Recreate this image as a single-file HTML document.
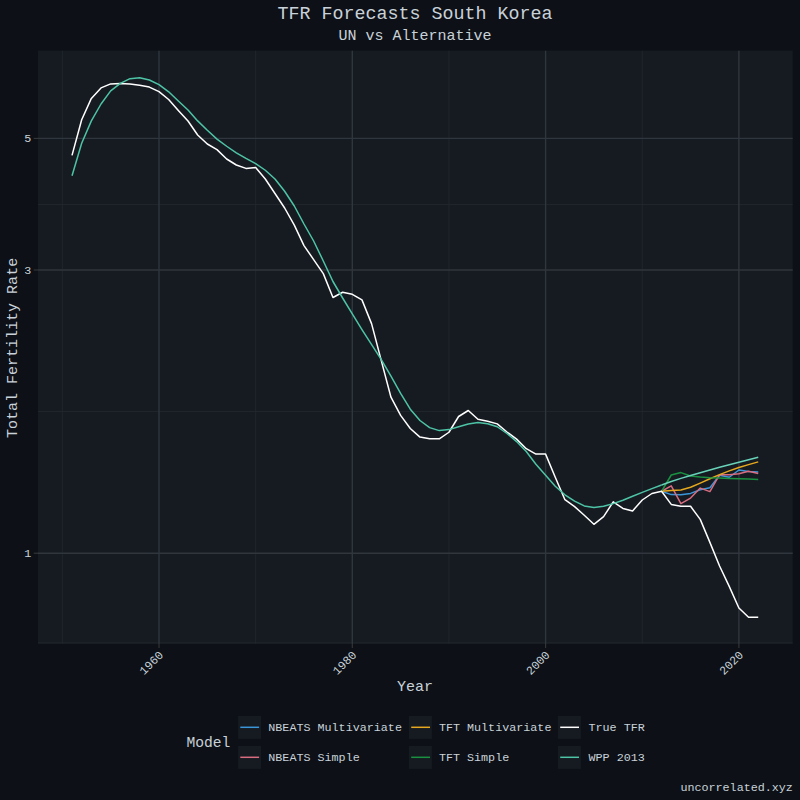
<!DOCTYPE html>
<html><head><meta charset="utf-8"><title>TFR Forecasts South Korea</title>
<style>
html,body{margin:0;padding:0;background:#0d1117;}
body{width:800px;height:800px;position:relative;overflow:hidden;font-family:"Liberation Mono",monospace;}
.t{position:absolute;white-space:pre;line-height:1em;font-family:"Liberation Mono",monospace;}
</style></head><body>
<svg width="800" height="800" viewBox="0 0 800 800" style="position:absolute;left:0;top:0">
<rect x="38.0" y="50.67" width="754.7" height="593.23" fill="#161b22"/>
<line x1="62.35" x2="62.35" y1="50.67" y2="643.9" stroke="#21262d" stroke-width="0.9"/>
<line x1="255.65" x2="255.65" y1="50.67" y2="643.9" stroke="#21262d" stroke-width="0.9"/>
<line x1="448.95" x2="448.95" y1="50.67" y2="643.9" stroke="#21262d" stroke-width="0.9"/>
<line x1="642.25" x2="642.25" y1="50.67" y2="643.9" stroke="#21262d" stroke-width="0.9"/>
<line x1="38.0" x2="792.7" y1="204.5" y2="204.5" stroke="#21262d" stroke-width="0.9"/>
<line x1="38.0" x2="792.7" y1="411.5" y2="411.5" stroke="#21262d" stroke-width="0.9"/>
<line x1="38.0" x2="792.7" y1="642.9" y2="642.9" stroke="#21262d" stroke-width="0.9"/>
<line x1="159.00" x2="159.00" y1="50.67" y2="643.9" stroke="#30363d" stroke-width="1.4"/>
<line x1="159.00" x2="159.00" y1="643.9" y2="648.1" stroke="#383838" stroke-width="1.07"/>
<line x1="352.30" x2="352.30" y1="50.67" y2="643.9" stroke="#30363d" stroke-width="1.4"/>
<line x1="352.30" x2="352.30" y1="643.9" y2="648.1" stroke="#383838" stroke-width="1.07"/>
<line x1="545.60" x2="545.60" y1="50.67" y2="643.9" stroke="#30363d" stroke-width="1.4"/>
<line x1="545.60" x2="545.60" y1="643.9" y2="648.1" stroke="#383838" stroke-width="1.07"/>
<line x1="738.90" x2="738.90" y1="50.67" y2="643.9" stroke="#30363d" stroke-width="1.4"/>
<line x1="738.90" x2="738.90" y1="643.9" y2="648.1" stroke="#383838" stroke-width="1.07"/>
<line x1="38.0" x2="792.7" y1="138.4" y2="138.4" stroke="#30363d" stroke-width="1.4"/>
<line x1="33.7" x2="38.0" y1="138.4" y2="138.4" stroke="#383838" stroke-width="1.07"/>
<line x1="38.0" x2="792.7" y1="270.0" y2="270.0" stroke="#30363d" stroke-width="1.4"/>
<line x1="33.7" x2="38.0" y1="270.0" y2="270.0" stroke="#383838" stroke-width="1.07"/>
<line x1="38.0" x2="792.7" y1="553.2" y2="553.2" stroke="#30363d" stroke-width="1.4"/>
<line x1="33.7" x2="38.0" y1="553.2" y2="553.2" stroke="#383838" stroke-width="1.07"/>
<polyline points="661.58,491.25 671.25,494.60 680.91,494.80 690.57,493.40 700.24,489.75 709.90,487.75 719.57,475.25 729.23,477.25 738.90,470.00 748.56,471.50 758.23,472.10" fill="none" stroke="#3b96d9" stroke-width="1.5" stroke-linejoin="round" stroke-linecap="butt"/>
<polyline points="661.58,491.25 671.25,485.90 680.91,503.60 690.57,498.10 700.24,488.10 709.90,491.60 719.57,474.75 729.23,474.75 738.90,473.75 748.56,471.25 758.23,473.40" fill="none" stroke="#d96c7f" stroke-width="1.5" stroke-linejoin="round" stroke-linecap="butt"/>
<polyline points="661.58,491.25 671.25,490.60 680.91,490.00 690.57,487.20 700.24,483.10 709.90,478.75 719.57,474.60 729.23,470.90 738.90,467.50 748.56,464.60 758.23,461.90" fill="none" stroke="#e6a81e" stroke-width="1.5" stroke-linejoin="round" stroke-linecap="butt"/>
<polyline points="661.58,491.25 671.25,475.00 680.91,472.60 690.57,476.00 700.24,477.10 709.90,477.75 719.57,478.10 729.23,478.40 738.90,478.75 748.56,479.10 758.23,479.50" fill="none" stroke="#1a9140" stroke-width="1.5" stroke-linejoin="round" stroke-linecap="butt"/>
<polyline points="72.02,155.40 81.68,119.75 91.34,98.40 101.01,87.90 110.68,83.90 120.34,83.60 130.00,83.90 139.67,85.25 149.34,87.10 159.00,91.60 168.66,99.50 178.33,110.40 188.00,121.00 197.66,135.00 207.32,144.00 216.99,149.60 226.66,159.00 236.32,165.00 245.98,168.40 255.65,167.40 265.31,179.00 274.98,193.50 284.64,208.00 294.31,225.10 303.98,245.60 313.64,259.60 323.30,273.60 332.97,297.50 342.63,292.25 352.30,294.30 361.96,299.90 371.63,323.90 381.29,360.60 390.96,397.20 400.62,415.40 410.29,428.50 419.95,437.10 429.62,438.80 439.28,438.80 448.95,432.25 458.61,416.50 468.28,410.50 477.94,419.30 487.61,421.20 497.27,423.90 506.94,432.00 516.61,439.10 526.27,448.70 535.93,454.10 545.60,454.10 555.26,477.20 564.93,499.70 574.60,506.60 584.26,515.25 593.92,524.30 603.59,516.60 613.25,501.90 622.92,508.40 632.59,510.90 642.25,500.00 651.91,493.50 661.58,491.25 671.25,504.40 680.91,506.20 690.57,506.30 700.24,519.40 709.90,542.40 719.57,566.00 729.23,586.40 738.90,608.00 748.56,617.20 758.23,617.20" fill="none" stroke="#ffffff" stroke-width="1.5" stroke-linejoin="round" stroke-linecap="butt"/>
<polyline points="72.02,175.70 81.68,143.20 91.34,120.90 101.01,104.00 110.68,90.90 120.34,83.40 130.00,78.70 139.67,77.75 149.34,80.00 159.00,84.70 168.66,91.80 178.33,101.00 188.00,110.00 197.66,120.90 207.32,130.30 216.99,139.10 226.66,146.25 236.32,152.80 245.98,158.40 255.65,163.70 265.31,170.25 274.98,179.00 284.64,191.25 294.31,206.00 303.98,224.00 313.64,241.00 323.30,261.00 332.97,281.50 342.63,298.00 352.30,313.90 361.96,329.60 371.63,344.60 381.29,359.70 390.96,376.20 400.62,393.40 410.29,409.20 419.95,420.50 429.62,427.60 439.28,430.60 448.95,429.60 458.61,426.80 468.28,424.00 477.94,422.60 487.61,423.70 497.27,426.75 506.94,433.50 516.61,441.60 526.27,451.50 535.93,464.20 545.60,475.30 555.26,486.20 564.93,494.80 574.60,501.20 584.26,505.90 593.92,507.50 603.59,506.30 613.25,503.60 622.92,500.20 632.59,496.30 642.25,492.40 651.91,488.60 661.58,485.00" fill="none" stroke="#4ec4a6" stroke-width="1.5" stroke-linejoin="round" stroke-linecap="butt"/>
<polyline points="661.58,485.00 671.25,481.50 680.91,478.40 690.57,475.50 700.24,472.80 709.90,470.00 719.57,467.30 729.23,464.80 738.90,462.30 748.56,459.80 758.23,457.20" fill="none" stroke="#68d3b8" stroke-width="1.5" stroke-linejoin="round" stroke-linecap="butt"/>
<rect x="238.1" y="716.0" width="22.9" height="22.9" fill="#161b22"/>
<line x1="240.29999999999998" x2="259.1" y1="727.3" y2="727.3" stroke="#3b96d9" stroke-width="1.5"/>
<rect x="238.1" y="746.0" width="22.9" height="22.9" fill="#161b22"/>
<line x1="240.29999999999998" x2="259.1" y1="757.3" y2="757.3" stroke="#d96c7f" stroke-width="1.5"/>
<rect x="409.0" y="716.0" width="22.9" height="22.9" fill="#161b22"/>
<line x1="411.2" x2="430.0" y1="727.3" y2="727.3" stroke="#e6a81e" stroke-width="1.5"/>
<rect x="409.0" y="746.0" width="22.9" height="22.9" fill="#161b22"/>
<line x1="411.2" x2="430.0" y1="757.3" y2="757.3" stroke="#1a9140" stroke-width="1.5"/>
<rect x="558.0" y="716.0" width="22.9" height="22.9" fill="#161b22"/>
<line x1="560.2" x2="579.0" y1="727.3" y2="727.3" stroke="#ffffff" stroke-width="1.5"/>
<rect x="558.0" y="746.0" width="22.9" height="22.9" fill="#161b22"/>
<line x1="560.2" x2="579.0" y1="757.3" y2="757.3" stroke="#4ec4a6" stroke-width="1.5"/>
</svg>
<div class="t" style="left:15.00px;width:800px;text-align:center;top:6.25px;font-size:18.33px;color:#c9d1d9;">TFR Forecasts South Korea</div>
<div class="t" style="left:15.00px;width:800px;text-align:center;top:28.80px;font-size:15.0px;color:#c9d1d9;">UN vs Alternative</div>
<div class="t" style="left:15.00px;width:800px;text-align:center;top:679.50px;font-size:15.0px;color:#c9d1d9;">Year</div>
<div class="t" style="left:186.40px;top:736.16px;font-size:14.67px;color:#c9d1d9;">Model</div>
<div class="t" style="right:7.10px;top:783.01px;font-size:11.73px;color:#c9d1d9;">uncorrelated.xyz</div>
<div class="t" style="left:268.30px;top:723.01px;font-size:11.73px;color:#c9d1d9;">NBEATS Multivariate</div>
<div class="t" style="left:268.30px;top:753.01px;font-size:11.73px;color:#c9d1d9;">NBEATS Simple</div>
<div class="t" style="left:438.90px;top:723.01px;font-size:11.73px;color:#c9d1d9;">TFT Multivariate</div>
<div class="t" style="left:438.90px;top:753.01px;font-size:11.73px;color:#c9d1d9;">TFT Simple</div>
<div class="t" style="left:588.50px;top:723.01px;font-size:11.73px;color:#c9d1d9;">True TFR</div>
<div class="t" style="left:588.50px;top:753.01px;font-size:11.73px;color:#c9d1d9;">WPP 2013</div>
<div class="t" style="right:768.80px;top:134.01px;font-size:11.73px;color:#c9d1d9;">5</div>
<div class="t" style="right:768.80px;top:265.61px;font-size:11.73px;color:#c9d1d9;">3</div>
<div class="t" style="right:768.80px;top:548.81px;font-size:11.73px;color:#c9d1d9;">1</div>
<div class="t" style="left:0;top:0;font-size:15.0px;color:#c9d1d9;transform-origin:0 0;transform:translate(6.2px,437.9px) rotate(-90deg);">Total Fertility Rate</div>
<div class="t" style="left:0;top:0;font-size:11.73px;color:#c9d1d9;width:60px;text-align:right;transform-origin:100% 0;transform:translate(98.30px,650.00px) rotate(-45deg);">1960</div>
<div class="t" style="left:0;top:0;font-size:11.73px;color:#c9d1d9;width:60px;text-align:right;transform-origin:100% 0;transform:translate(291.60px,650.00px) rotate(-45deg);">1980</div>
<div class="t" style="left:0;top:0;font-size:11.73px;color:#c9d1d9;width:60px;text-align:right;transform-origin:100% 0;transform:translate(484.90px,650.00px) rotate(-45deg);">2000</div>
<div class="t" style="left:0;top:0;font-size:11.73px;color:#c9d1d9;width:60px;text-align:right;transform-origin:100% 0;transform:translate(678.20px,650.00px) rotate(-45deg);">2020</div>
</body></html>
